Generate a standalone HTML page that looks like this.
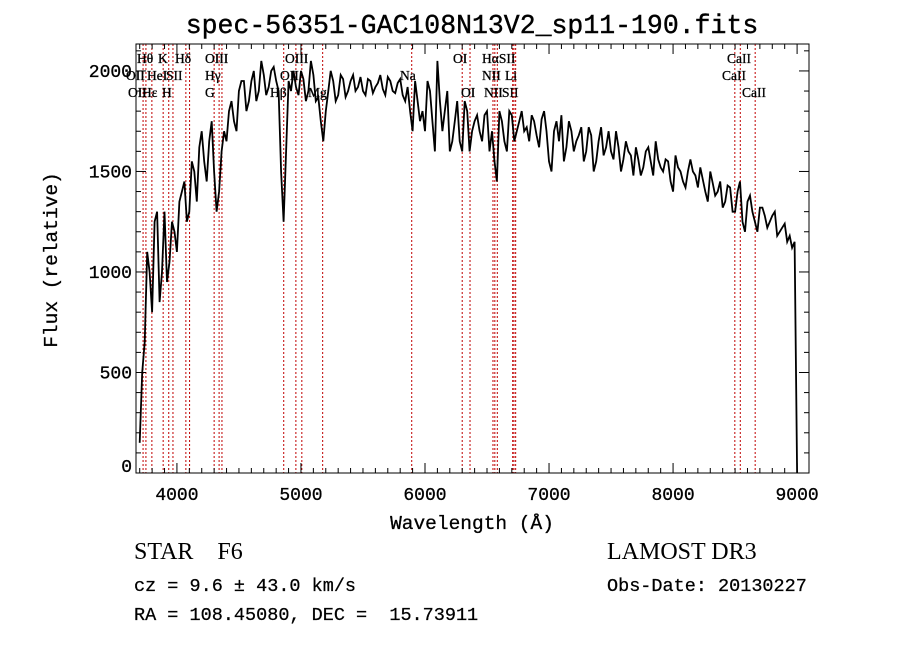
<!DOCTYPE html>
<html><head><meta charset="utf-8">
<style>
body{margin:0;background:#fff;width:900px;height:649px;overflow:hidden}
svg{display:block}
.mono{font-family:"Liberation Mono",monospace}
.ser{font-family:"Liberation Serif",serif}
</style></head>
<body>
<svg id="chart" width="900" height="649" xmlns="http://www.w3.org/2000/svg">
<rect width="900" height="649" fill="#fff"/>
<text x="472" y="33" text-anchor="middle" class="mono" font-size="26.5" stroke="#000" stroke-width="0.4">spec-56351-GAC108N13V2_sp11-190.fits</text>
<g id="lines"></g>
<g id="labels"></g>
<path id="spec" fill="none" stroke="#000" stroke-width="1.8" stroke-linejoin="miter"/>
<rect x="136" y="44" width="673" height="429" fill="none" stroke="#000" stroke-width="1"/>
<g id="ticks"></g>
<text x="472" y="529" text-anchor="middle" class="mono" font-size="19.5" stroke="#000" stroke-width="0.3">Wavelength (Å)</text>
<text transform="translate(57,260) rotate(-90)" text-anchor="middle" class="mono" font-size="19.5" stroke="#000" stroke-width="0.3">Flux (relative)</text>
<text x="134" y="559" class="ser" font-size="24" xml:space="preserve" style="white-space:pre">STAR    F6</text>
<text x="607" y="559" class="ser" font-size="24">LAMOST DR3</text>
<text x="134" y="591" class="mono" font-size="18.5" stroke="#000" stroke-width="0.25" xml:space="preserve" style="white-space:pre">cz = 9.6 ± 43.0 km/s</text>
<text x="607" y="591" class="mono" font-size="18.5" stroke="#000" stroke-width="0.25">Obs-Date: 20130227</text>
<text x="134" y="620" class="mono" font-size="18.5" stroke="#000" stroke-width="0.25" xml:space="preserve" style="white-space:pre">RA = 108.45080, DEC =  15.73911</text>
</svg>
<script>
const waveStart = 3700, waveStep = 40, waveEnd = 9000;
const flux = [150,650,1000,1250,850,1300,1050,1200,1350,1450,1300,1500,1620,1550,1650,1500,1400,1700,1800,1750,
1900,1950,1850,2000,1900,1980,1920,2020,1900,1250,1950,2000,1880,1960,1900,1980,1870,1650,1900,1950,
1880,1960,1900,1980,1920,1900,1960,1890,1940,1910,1970,1900,1940,1880,1920,1700,1850,1800,1950,1750,
2050,1700,1900,1650,1850,1600,1800,1700,1780,1650,1800,1700,1450,1750,1600,1780,1700,1800,1720,1780,
1680,1760,1700,1500,1750,1780,1620,1700,1650,1720,1600,1680,1550,1720,1620,1600,1700,1500,1650,1580,
1620,1480,1600,1550,1650,1520,1560,1450,1580,1500,1420,1560,1480,1520,1400,1500,1380,1450,1350,1420,
1300,1450,1200,1380,1250,1320,1280,1250,1300,1200,1240,1180,1150,0];
const fluxMid = [500,1100,800,1300,1000,950,1250,1100,1400,1250,1550,1350,1700,1450,1750,1300,1600,1650,1850,1700,
1950,1800,1950,1850,2050,1880,2000,1950,1500,1600,1900,1920,2000,1850,2050,1850,1750,1800,2000,1850,
1980,1870,1950,1900,1970,1880,1950,1920,1980,1880,1950,1890,1960,1850,1800,1950,1750,1700,1900,1600,
1850,1800,1600,1750,1650,1850,1600,1750,1700,1780,1600,1550,1800,1650,1800,1650,1750,1700,1650,1750,
1620,1800,1550,1700,1650,1550,1750,1600,1680,1550,1720,1500,1650,1580,1700,1560,1620,1560,1600,1480,
1560,1520,1620,1480,1560,1500,1550,1400,1520,1450,1500,1500,1420,1460,1350,1440,1400,1320,1430,1300,
1400,1250,1350,1300,1200,1320,1220,1280,1180,1220,1150,1120];
const lineWaves = [3727,3750,3798,3889,3934,3968,4072,4102,4300,4340,4363,4861,4959,5007,5175,5893,6300,6363,6548,6563,6583,6707,6717,6731,8498,8542,8662];
const labelText = ["Hθ","K","Hδ","OIII","OIII","OI","HαSII","CaII","OII","HeI","SII","Hγ","OII","Na","NII","Li","CaII","OII","Hε","H","G","Hβ","Mg","OI","NII","SII","CaII"];
const labelX = [137,158,175,205,285,453,482,727,126,147,166,205,280,400,482,505,722,128,142,162,205,270,308,461,484,502,742];
const labelRow = [0,0,0,0,0,0,0,0,1,1,1,1,1,1,1,1,1,2,2,2,2,2,2,2,2,2,2];
const xTicks = [4000,5000,6000,7000,8000,9000];
const yTicks = [0,500,1000,1500,2000];

const X0=136,X1=809,Y0=473,Y1=44,XMIN=3670,XMAX=9096,YMIN=0,YMAX=2134;
const sx=w=>X0+(w-XMIN)/(XMAX-XMIN)*(X1-X0);
const sy=f=>Y0-(Math.min(Math.max(f,YMIN),YMAX)-YMIN)/(YMAX-YMIN)*(Y0-Y1);
const NS="http://www.w3.org/2000/svg";
function mk(tag,attrs,parent){const e=document.createElementNS(NS,tag);for(const k in attrs)e.setAttribute(k,attrs[k]);parent.appendChild(e);return e;}

const pts=[];
const nMain=flux.length-1;
for(let i=0;i<nMain;i++){
  pts.push([waveStart+i*waveStep,flux[i]]);
  if(i<fluxMid.length && i<nMain-1) pts.push([waveStart+i*waveStep+waveStep/2,fluxMid[i]]);
}
pts.push([waveEnd,flux[flux.length-1]]);
let d="";
pts.forEach((p,i)=>{d+=(i?"L":"M")+sx(p[0]).toFixed(1)+","+sy(p[1]).toFixed(1);});
document.getElementById("spec").setAttribute("d",d);

const lg=document.getElementById("lines");
lineWaves.forEach(w=>{const l=mk("line",{x1:sx(w),x2:sx(w),y1:Y1,y2:Y0,stroke:"#c00000","stroke-width":1,"stroke-dasharray":"2,2"},lg);

});

const lb=document.getElementById("labels");
labelText.forEach((t,i)=>{const e=mk("text",{x:labelX[i],y:63+labelRow[i]*17,"font-size":13.5,"font-family":"Liberation Serif, serif",stroke:"#000","stroke-width":0.3},lb);e.textContent=t;

});

const tg=document.getElementById("ticks");
for(let w=3700;w<=9096;w+=100){const maj=w%1000===0;const L=maj?10:5;
mk("line",{x1:sx(w),x2:sx(w),y1:Y0,y2:Y0-L,stroke:"#000"},tg);
mk("line",{x1:sx(w),x2:sx(w),y1:Y1,y2:Y1+L,stroke:"#000"},tg);}
for(let f=0;f<=YMAX;f+=100){const maj=f%500===0;const L=maj?10:5;
mk("line",{x1:X0,x2:X0+L,y1:sy(f),y2:sy(f),stroke:"#000"},tg);
mk("line",{x1:X1,x2:X1-L,y1:sy(f),y2:sy(f),stroke:"#000"},tg);}
xTicks.forEach(w=>{const e=mk("text",{x:sx(w),y:Y0+27,"text-anchor":"middle","font-size":18,"font-family":"Liberation Mono, monospace",stroke:"#000","stroke-width":0.3},tg);e.textContent=w;

});
yTicks.forEach(f=>{const yy=f===0?sy(f)-1:sy(f)+6;const e=mk("text",{x:X0-4,y:yy,"text-anchor":"end","font-size":18,"font-family":"Liberation Mono, monospace",stroke:"#000","stroke-width":0.3},tg);e.textContent=f;

});
</script>
</body></html>
